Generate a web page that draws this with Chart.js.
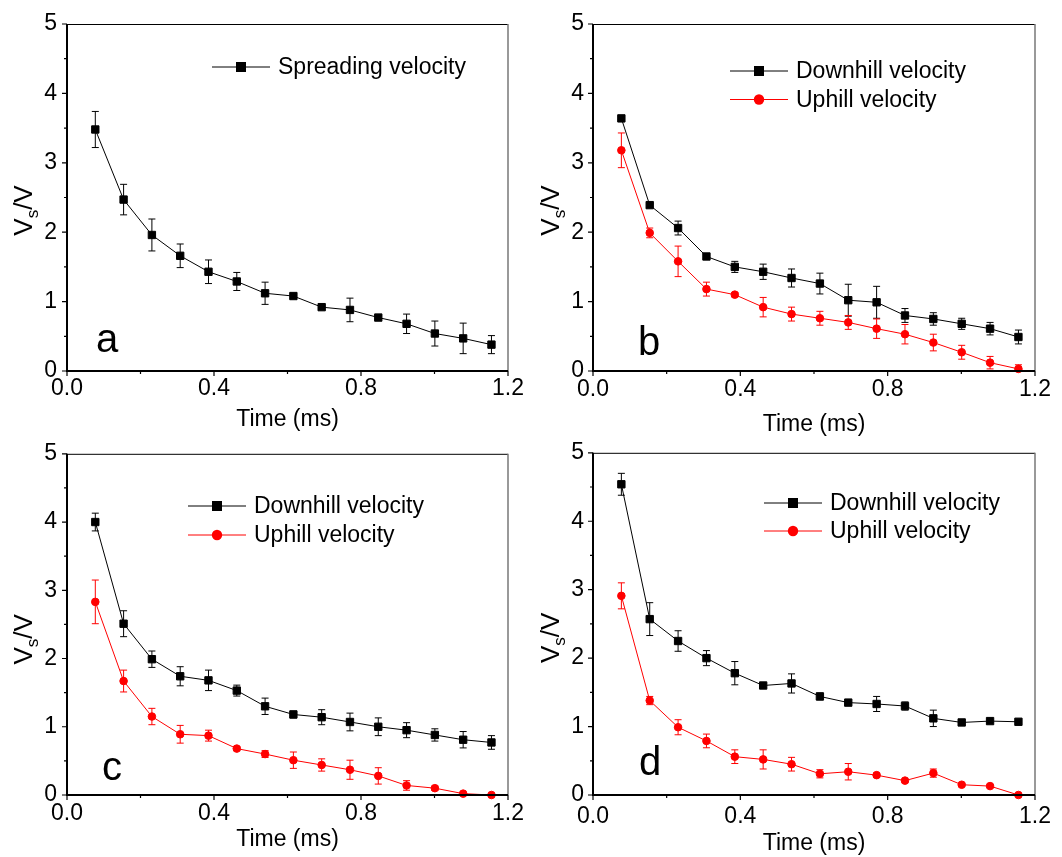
<!DOCTYPE html>
<html>
<head>
<meta charset="utf-8">
<script src="https://cdn.jsdelivr.net/npm/chart.js@4.4.1/dist/chart.umd.min.js"></script>
<style>
html, body { margin: 0; padding: 0; background: #fff; }
body { width: 1062px; height: 857px; position: relative; overflow: hidden; }
canvas { position: absolute; }
</style>
</head>
<body>
<canvas id="chartA" width="531" height="445" style="left:0;top:0;width:531px;height:445px"></canvas>
<canvas id="chartB" width="531" height="445" style="left:531px;top:0;width:531px;height:445px"></canvas>
<canvas id="chartC" width="531" height="427" style="left:0;top:430px;width:531px;height:427px"></canvas>
<canvas id="chartD" width="531" height="427" style="left:531px;top:430px;width:531px;height:427px"></canvas>
<script>
// time of each frame (ms)
const times = [0.077, 0.154, 0.231, 0.308, 0.385, 0.462, 0.539, 0.616, 0.693, 0.770, 0.847, 0.924, 1.001, 1.078, 1.155];
const xTicks = [0, 0.4, 0.8, 1.2];
const yTicks = [0, 1, 2, 3, 4, 5];

// panel a
const aSpread    = [3.48, 2.47, 1.96, 1.66, 1.43, 1.29, 1.12, 1.08, 0.92, 0.88, 0.77, 0.68, 0.54, 0.47, 0.38];
const aSpreadErr = [0.26, 0.22, 0.23, 0.17, 0.17, 0.13, 0.16, 0.04, 0.03, 0.17, 0.03, 0.14, 0.18, 0.22, 0.13];

// panel b
const bDown    = [3.64, 2.39, 2.06, 1.65, 1.50, 1.43, 1.34, 1.26, 1.02, 0.99, 0.80, 0.75, 0.68, 0.61, 0.49];
const bDownErr = [0.02, 0.03, 0.10, 0.03, 0.08, 0.11, 0.13, 0.15, 0.23, 0.23, 0.10, 0.09, 0.08, 0.09, 0.10];
const bUp      = [3.18, 1.99, 1.58, 1.18, 1.10, 0.92, 0.82, 0.76, 0.70, 0.61, 0.53, 0.41, 0.27, 0.12, 0.03];
const bUpErr   = [0.25, 0.07, 0.22, 0.10, 0.03, 0.14, 0.10, 0.10, 0.10, 0.14, 0.14, 0.12, 0.10, 0.09, 0.06];

// panel c
const cDown    = [4.00, 2.51, 1.99, 1.74, 1.68, 1.53, 1.30, 1.18, 1.14, 1.07, 1.00, 0.95, 0.88, 0.81, 0.77];
const cDownErr = [0.13, 0.19, 0.12, 0.14, 0.15, 0.08, 0.12, 0.05, 0.11, 0.13, 0.13, 0.11, 0.09, 0.12, 0.10];
const cUp      = [2.83, 1.67, 1.15, 0.89, 0.87, 0.68, 0.60, 0.51, 0.44, 0.37, 0.28, 0.14, 0.10, 0.02, 0.00];
const cUpErr   = [0.32, 0.16, 0.12, 0.13, 0.08, 0.03, 0.05, 0.12, 0.09, 0.14, 0.12, 0.07, 0.03, 0.02, 0.01];

// panel d
const dDown    = [4.54, 2.57, 2.25, 2.00, 1.78, 1.60, 1.63, 1.44, 1.35, 1.33, 1.30, 1.12, 1.06, 1.08, 1.07];
const dDownErr = [0.16, 0.24, 0.15, 0.11, 0.17, 0.03, 0.14, 0.05, 0.02, 0.11, 0.06, 0.12, 0.02, 0.02, 0.02];
const dUp      = [2.91, 1.38, 0.99, 0.79, 0.56, 0.52, 0.45, 0.31, 0.34, 0.29, 0.21, 0.32, 0.15, 0.13, 0.00];
const dUpErr   = [0.19, 0.06, 0.11, 0.10, 0.10, 0.14, 0.10, 0.06, 0.12, 0.03, 0.02, 0.06, 0.02, 0.02, 0.01];

const FONT = "'Liberation Sans', Arial, Helvetica, sans-serif";
Chart.defaults.font.family = FONT;
Chart.defaults.color = '#000';

function pts(vals) {
    return vals.map((v, i) => ({ x: times[i], y: v }));
}

function blackSeries(label, vals, errs) {
    return {
        label: label, data: pts(vals), errors: errs,
        borderColor: '#000', backgroundColor: '#000', borderWidth: 1,
        pointStyle: 'rect', pointRadius: 5.2, pointBorderWidth: 1, pointHoverRadius: 5.2,
        tension: 0, clip: false
    };
}

function redSeries(label, vals, errs) {
    return {
        label: label, data: pts(vals), errors: errs,
        borderColor: '#ff0000', backgroundColor: '#ff0000', borderWidth: 1,
        pointStyle: 'circle', pointRadius: 3.8, pointBorderWidth: 1, pointHoverRadius: 3.8,
        tension: 0, clip: false
    };
}

// axes box, minor ticks, titles, legend, error bars
const panelDeco = {
    id: 'panelDeco',
    beforeDatasetsDraw(chart) {
        const ctx = chart.ctx;
        const x = chart.scales.x, y = chart.scales.y;
        ctx.save();
        ctx.lineWidth = 1;
        chart.data.datasets.forEach(ds => {
            ctx.strokeStyle = ds.borderColor;
            ds.data.forEach((p, i) => {
                const e = ds.errors[i];
                const px = x.getPixelForValue(p.x);
                const y1 = y.getPixelForValue(p.y + e);
                const y2 = y.getPixelForValue(Math.max(p.y - e, 0));
                ctx.beginPath();
                ctx.moveTo(px, y1); ctx.lineTo(px, y2);
                ctx.moveTo(px - 3.5, y1); ctx.lineTo(px + 3.5, y1);
                ctx.moveTo(px - 3.5, y2); ctx.lineTo(px + 3.5, y2);
                ctx.stroke();
            });
        });
        ctx.restore();
    },
    afterDraw(chart, args, o) {
        const ctx = chart.ctx;
        const { left, top, right, bottom } = chart.chartArea;
        const x = chart.scales.x, y = chart.scales.y;
        ctx.save();

        // ticks, outward
        ctx.strokeStyle = '#000';
        ctx.lineWidth = 1.2;
        ctx.beginPath();
        xTicks.forEach((v, i) => {
            const px = x.getPixelForValue(v);
            ctx.moveTo(px, bottom); ctx.lineTo(px, bottom + 5);
            if (i < xTicks.length - 1) {
                const mx = x.getPixelForValue((v + xTicks[i + 1]) / 2);
                ctx.moveTo(mx, bottom); ctx.lineTo(mx, bottom + 3);
            }
        });
        yTicks.forEach((v, i) => {
            const py = y.getPixelForValue(v);
            ctx.moveTo(left, py); ctx.lineTo(left - 5, py);
            if (i < yTicks.length - 1) {
                const my = y.getPixelForValue((v + yTicks[i + 1]) / 2);
                ctx.moveTo(left, my); ctx.lineTo(left - 3, my);
            }
        });
        ctx.stroke();

        // frame
        ctx.lineWidth = 1;
        ctx.beginPath();
        ctx.moveTo(left, top + 0.5); ctx.lineTo(right, top + 0.5);
        ctx.stroke();
        ctx.strokeStyle = '#777';
        ctx.lineWidth = 1.5;
        ctx.beginPath();
        ctx.moveTo(right, top); ctx.lineTo(right, bottom);
        ctx.stroke();
        ctx.strokeStyle = '#000';
        ctx.lineWidth = 2;
        ctx.beginPath();
        ctx.moveTo(left, top); ctx.lineTo(left, bottom); ctx.lineTo(right, bottom);
        ctx.stroke();

        ctx.fillStyle = '#000';
        // x title
        ctx.font = '23px ' + FONT;
        ctx.textAlign = 'center';
        ctx.textBaseline = 'middle';
        ctx.fillText('Time (ms)', (left + right) / 2, bottom + o.xTitle);

        // y title V_s/V
        ctx.save();
        ctx.translate(o.yTitleX, (top + bottom) / 2 + o.yTitleShift);
        ctx.rotate(-Math.PI / 2);
        ctx.textAlign = 'left';
        ctx.textBaseline = 'middle';
        ctx.font = '26px ' + FONT;
        const wV = ctx.measureText('V').width;
        const wSlash = ctx.measureText('/V').width;
        ctx.font = '17px ' + FONT;
        const wS = ctx.measureText('s').width;
        let cx = -(wV + wS + wSlash) / 2;
        ctx.font = '26px ' + FONT;
        ctx.fillText('V', cx, 0);
        cx += wV;
        ctx.font = '17px ' + FONT;
        ctx.fillText('s', cx, 8);
        cx += wS;
        ctx.font = '26px ' + FONT;
        ctx.fillText('/V', cx, 0);
        ctx.restore();

        // panel letter
        ctx.font = '40px ' + FONT;
        ctx.textAlign = 'center';
        ctx.textBaseline = 'alphabetic';
        ctx.fillText(o.letter, left + o.letX, bottom - o.letY);

        // legend
        ctx.font = '23px ' + FONT;
        ctx.textAlign = 'left';
        ctx.textBaseline = 'middle';
        chart.data.datasets.forEach((ds, i) => {
            const ly = o.legY + i * o.legGap;
            ctx.strokeStyle = ds.borderColor;
            ctx.fillStyle = ds.backgroundColor;
            ctx.lineWidth = 1;
            ctx.beginPath();
            ctx.moveTo(o.legX, ly); ctx.lineTo(o.legX + 58, ly);
            ctx.stroke();
            const mx = o.legX + 29;
            ctx.beginPath();
            if (ds.pointStyle === 'rect') {
                ctx.rect(mx - 5, ly - 5, 10, 10);
            } else {
                ctx.arc(mx, ly, 5.2, 0, Math.PI * 2);
            }
            ctx.fill();
            ctx.fillStyle = '#000';
            ctx.fillText(ds.label, o.legX + 66, ly + 1);
        });

        ctx.restore();
    }
};

function makeChart(id, datasets, p) {
    return new Chart(document.getElementById(id), {
        type: 'line',
        data: { datasets: datasets },
        options: {
            responsive: false,
            animation: false,
            devicePixelRatio: 1,
            layout: { padding: { top: p.top, right: p.right, left: 0, bottom: 0 } },
            plugins: {
                legend: { display: false },
                tooltip: { enabled: false },
                panelDeco: p
            },
            scales: {
                x: {
                    type: 'linear', min: 0, max: 1.2,
                    afterBuildTicks: s => { s.ticks = xTicks.map(v => ({ value: v })); },
                    ticks: { padding: p.xPad, font: { size: 23 }, maxRotation: 0, autoSkip: false,
                             callback: v => v.toFixed(1) },
                    grid: { display: false, drawTicks: false, tickLength: 0 },
                    border: { display: false },
                    afterFit: s => { s.height = p.xh; }
                },
                y: {
                    type: 'linear', min: 0, max: 5,
                    afterBuildTicks: s => { s.ticks = yTicks.map(v => ({ value: v })); },
                    ticks: { padding: p.yPad, font: { size: 23 }, callback: v => String(v) },
                    grid: { display: false, drawTicks: false, tickLength: 0 },
                    border: { display: false },
                    afterFit: s => { s.width = p.yw; }
                }
            }
        },
        plugins: [panelDeco]
    });
}

// top canvases are 445 tall: plot bottom 371 -> x scale height 74
makeChart('chartA', [
    blackSeries('Spreading velocity', aSpread, aSpreadErr)
], { top: 24, right: 23, yw: 67, xh: 74, xPad: 4, yPad: 10, xTitle: 49, yTitleX: 25, yTitleShift: 13,
     letter: 'a', letX: 40, letY: 19, legX: 212, legY: 67, legGap: 29 });

makeChart('chartB', [
    blackSeries('Downhill velocity', bDown, bDownErr),
    redSeries('Uphill velocity', bUp, bUpErr)
], { top: 24, right: 27, yw: 62, xh: 74, xPad: 5, yPad: 9, xTitle: 54, yTitleX: 21, yTitleShift: 13,
     letter: 'b', letX: 56, letY: 16, legX: 199, legY: 71, legGap: 28.5 });

makeChart('chartC', [
    blackSeries('Downhill velocity', cDown, cDownErr),
    redSeries('Uphill velocity', cUp, cUpErr)
], { top: 19, right: 23, yw: 67, xh: 62, xPad: 5, yPad: 10, xTitle: 45, yTitleX: 25, yTitleShift: 15,
     letter: 'c', letX: 45, letY: 15, legX: 188, legY: 76, legGap: 29 });

makeChart('chartD', [
    blackSeries('Downhill velocity', dDown, dDownErr),
    redSeries('Uphill velocity', dUp, dUpErr)
], { top: 19, right: 27, yw: 62, xh: 62, xPad: 8, yPad: 9, xTitle: 49, yTitleX: 21, yTitleShift: 14,
     letter: 'd', letX: 57, letY: 20, legX: 233, legY: 73, legGap: 28 });
</script>
</body>
</html>
